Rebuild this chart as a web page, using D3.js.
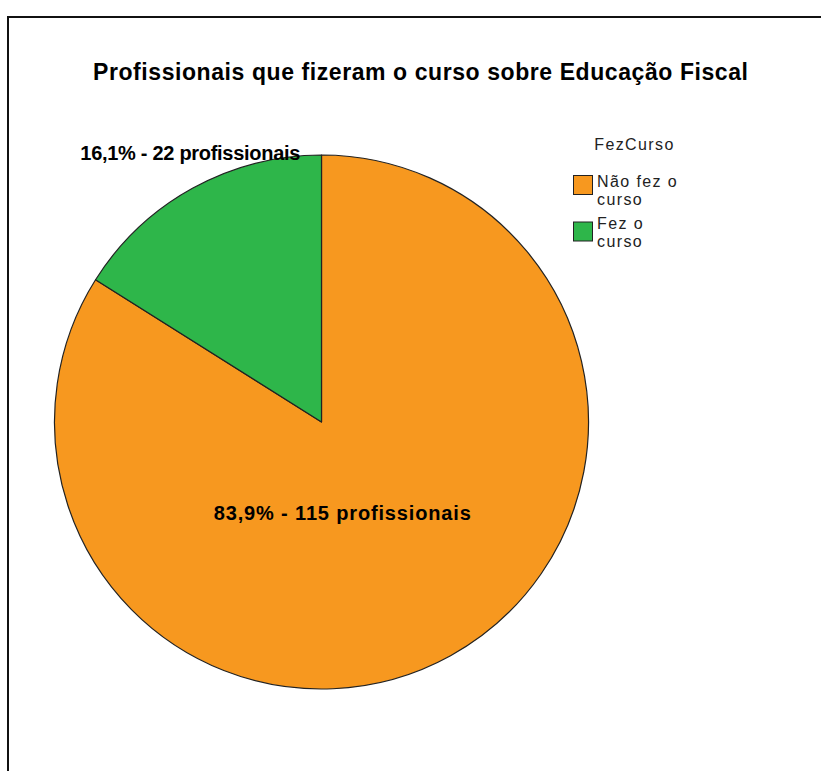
<!DOCTYPE html>
<html>
<head>
<meta charset="utf-8">
<script src="https://cdn.jsdelivr.net/npm/d3@7"></script>
<style>
  body { margin: 0; background: #fff; }
  text { font-family: "Liberation Sans", Arial, sans-serif; fill: #000; }
  .title { font-size: 23px; font-weight: bold; }
  .slice-label { font-size: 20px; font-weight: bold; }
  .legend-title, .legend-text { font-size: 16px; fill: #222; letter-spacing: 1.4px; }
</style>
</head>
<body>
<div class="app"></div>
<script>
'use strict'

var width = 821;
var height = 771;

// data
var categories = ["Não fez o curso", "Fez o curso"];
var counts = [115, 22];
var percents = ["83,9%", "16,1%"];
var legendLines = [["Não fez o", "curso"], ["Fez o", "curso"]];
var colors = ["#f7981f", "#2eb64a"];

var svg = d3.select(".app")
            .append("svg")
            .attr("width", width)
            .attr("height", height);

// moldura
svg.append("rect")
   .attr("x", 8)
   .attr("y", 17)
   .attr("width", 830)
   .attr("height", 800)
   .attr("fill", "none")
   .attr("stroke", "#111")
   .attr("stroke-width", 2);

// titulo
svg.append("text")
   .attr("class", "title")
   .attr("x", 420.5)
   .attr("y", 80)
   .attr("text-anchor", "middle")
   .attr("textLength", 655)
   .attr("lengthAdjust", "spacing")
   .text("Profissionais que fizeram o curso sobre Educação Fiscal");

var cx = 321.5, cy = 422, radius = 267;

var pie = d3.pie().sort(null).value(function(d){ return d; });
var arcs = pie(counts);

var arc = d3.arc().innerRadius(0).outerRadius(radius);

var g = svg.append("g")
           .attr("transform", "translate(" + cx + "," + cy + ")");

g.selectAll("path.slice")
 .data(arcs)
 .enter()
 .append("path")
 .attr("class", "slice")
 .attr("d", arc)
 .attr("fill", function(d, i){ return colors[i]; })
 .attr("stroke", "#222")
 .attr("stroke-width", 1.2)
 .attr("stroke-linejoin", "round");

// rotulos
var innerLabelArc = d3.arc().innerRadius(radius * 0.7).outerRadius(radius * 0.7);
var outerLabelArc = d3.arc().innerRadius(radius * 1.2).outerRadius(radius * 1.2);

// fatia grande: rotulo dentro; fatia pequena: rotulo acima da borda
g.append("text")
 .attr("class", "slice-label")
 .attr("x", innerLabelArc.centroid(arcs[0])[0] * 0.23)
 .attr("y", innerLabelArc.centroid(arcs[0])[1] * 0.6)
 .attr("text-anchor", "middle")
 .attr("textLength", 257)
 .attr("lengthAdjust", "spacing")
 .text(percents[0] + " - " + counts[0] + " profissionais");

g.append("text")
 .attr("class", "slice-label")
 .attr("x", outerLabelArc.centroid(arcs[1])[0] * 0.847)
 .attr("y", -radius + 5)
 .attr("text-anchor", "middle")
 .attr("textLength", 220)
 .attr("lengthAdjust", "spacing")
 .text(percents[1] + " - " + counts[1] + " profissionais");

// legenda
var legend = svg.append("g").attr("transform", "translate(573,0)");

legend.append("text")
      .attr("class", "legend-title")
      .attr("x", 61.5)
      .attr("y", 150)
      .attr("text-anchor", "middle")
      .text("FezCurso");

var items = legend.selectAll("g.item")
                  .data(categories)
                  .enter()
                  .append("g")
                  .attr("class", "item");

items.append("rect")
     .attr("x", 0.5)
     .attr("y", function(d, i){ return 175.5 + i * 46.5; })
     .attr("width", 19)
     .attr("height", 19)
     .attr("fill", function(d, i){ return colors[i]; })
     .attr("stroke", "#222")
     .attr("stroke-width", 1);

items.append("text")
     .attr("class", "legend-text")
     .attr("y", function(d, i){ return 187 + i * 42; })
     .selectAll("tspan")
     .data(function(d, i){ return legendLines[i]; })
     .enter()
     .append("tspan")
     .attr("x", 24)
     .attr("dy", function(d, j){ return j === 0 ? 0 : 18; })
     .text(function(d){ return d; });
</script>
</body>
</html>
